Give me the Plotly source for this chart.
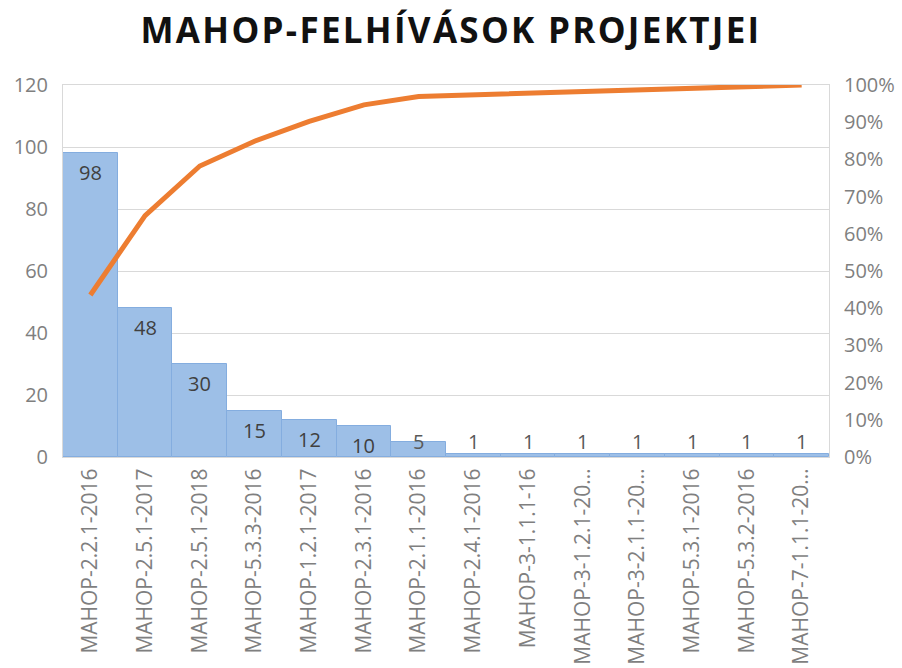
import plotly.graph_objects as go

categories = ["MAHOP-2.2.1-2016", "MAHOP-2.5.1-2017", "MAHOP-2.5.1-2018", "MAHOP-5.3.3-2016",
              "MAHOP-1.2.1-2017", "MAHOP-2.3.1-2016", "MAHOP-2.1.1-2016", "MAHOP-2.4.1-2016",
              "MAHOP-3-1.1.1-16", "MAHOP-3-1.2.1-20…", "MAHOP-3-2.1.1-20…", "MAHOP-5.3.1-2016",
              "MAHOP-5.3.2-2016", "MAHOP-7-1.1.1-20…"]
counts = [98, 48, 30, 15, 12, 10, 5, 1, 1, 1, 1, 1, 1, 1]

total = sum(counts)
cumulative = []
running = 0
for c in counts:
    running += c
    cumulative.append(running / total)

x_idx = list(range(len(categories)))
FONT = "Open Sans"

fig = go.Figure()
fig.add_trace(go.Bar(
    x=x_idx, y=counts,
    marker=dict(color="#9dbfe7", line=dict(color="#84addf", width=1)),
    showlegend=False, hoverinfo="skip",
))
fig.add_trace(go.Scatter(
    x=x_idx, y=cumulative, mode="lines", yaxis="y2",
    line=dict(color="#ED7D31", width=5),
    showlegend=False, hoverinfo="skip", cliponaxis=False,
))

annotations = []
for i, c in zip(x_idx, counts):
    big = c >= 10
    annotations.append(dict(
        x=i, y=c if big else 0, xref="x", yref="y",
        text=str(c), showarrow=False,
        yanchor="top" if big else "bottom", yshift=-4 if big else 0,
        font=dict(family=FONT, size=20, color="#404040" if big else "#595959"),
    ))

fig.update_layout(
    width=902, height=668,
    margin=dict(l=63, r=73, t=85, b=211),
    paper_bgcolor="white", plot_bgcolor="white",
    bargap=0,
    annotations=annotations,
    title=dict(text="<b>MAHOP-FELHÍVÁSOK PROJEKTJEI</b>", x=0.5, xanchor="center",
               y=1 - 31 / 668, yanchor="middle",
               font=dict(family=FONT, size=35, color="#111111")),
    font=dict(family=FONT, color="#7f7f7f", size=20),
    xaxis=dict(
        tickmode="array", tickvals=x_idx, ticktext=categories, tickangle=-90,
        range=[-0.5, len(categories) - 0.5],
        showgrid=False, showline=True, mirror=True, linecolor="#d9d9d9", linewidth=1,
        ticks="", tickfont=dict(family=FONT, size=21, color="#7f7f7f"), automargin=False,
        ticklabelstandoff=2,
    ),
    yaxis=dict(
        range=[0, 120], dtick=20, showgrid=True, gridcolor="#d9d9d9", gridwidth=1,
        showline=True, mirror=True, linecolor="#d9d9d9", zeroline=False,
        ticks="", tickfont=dict(family=FONT, size=20, color="#7f7f7f"), automargin=False,
        ticklabelstandoff=10,
    ),
    yaxis2=dict(
        range=[0, 1], dtick=0.1, tickformat=".0%", overlaying="y", side="right",
        showgrid=False, zeroline=False, showline=False,
        ticks="", tickfont=dict(family=FONT, size=20, color="#7f7f7f"), automargin=False,
        ticklabelstandoff=14,
    ),
)

post = (
    "document.body.style.margin='0';"
    "document.body.style.overflow='hidden';"
    "var t=document.querySelector('.gtitle'); if(t){t.style.letterSpacing='2.3px';}"
)
fig.write_html("out.html", post_script=post, config={"displayModeBar": False})
